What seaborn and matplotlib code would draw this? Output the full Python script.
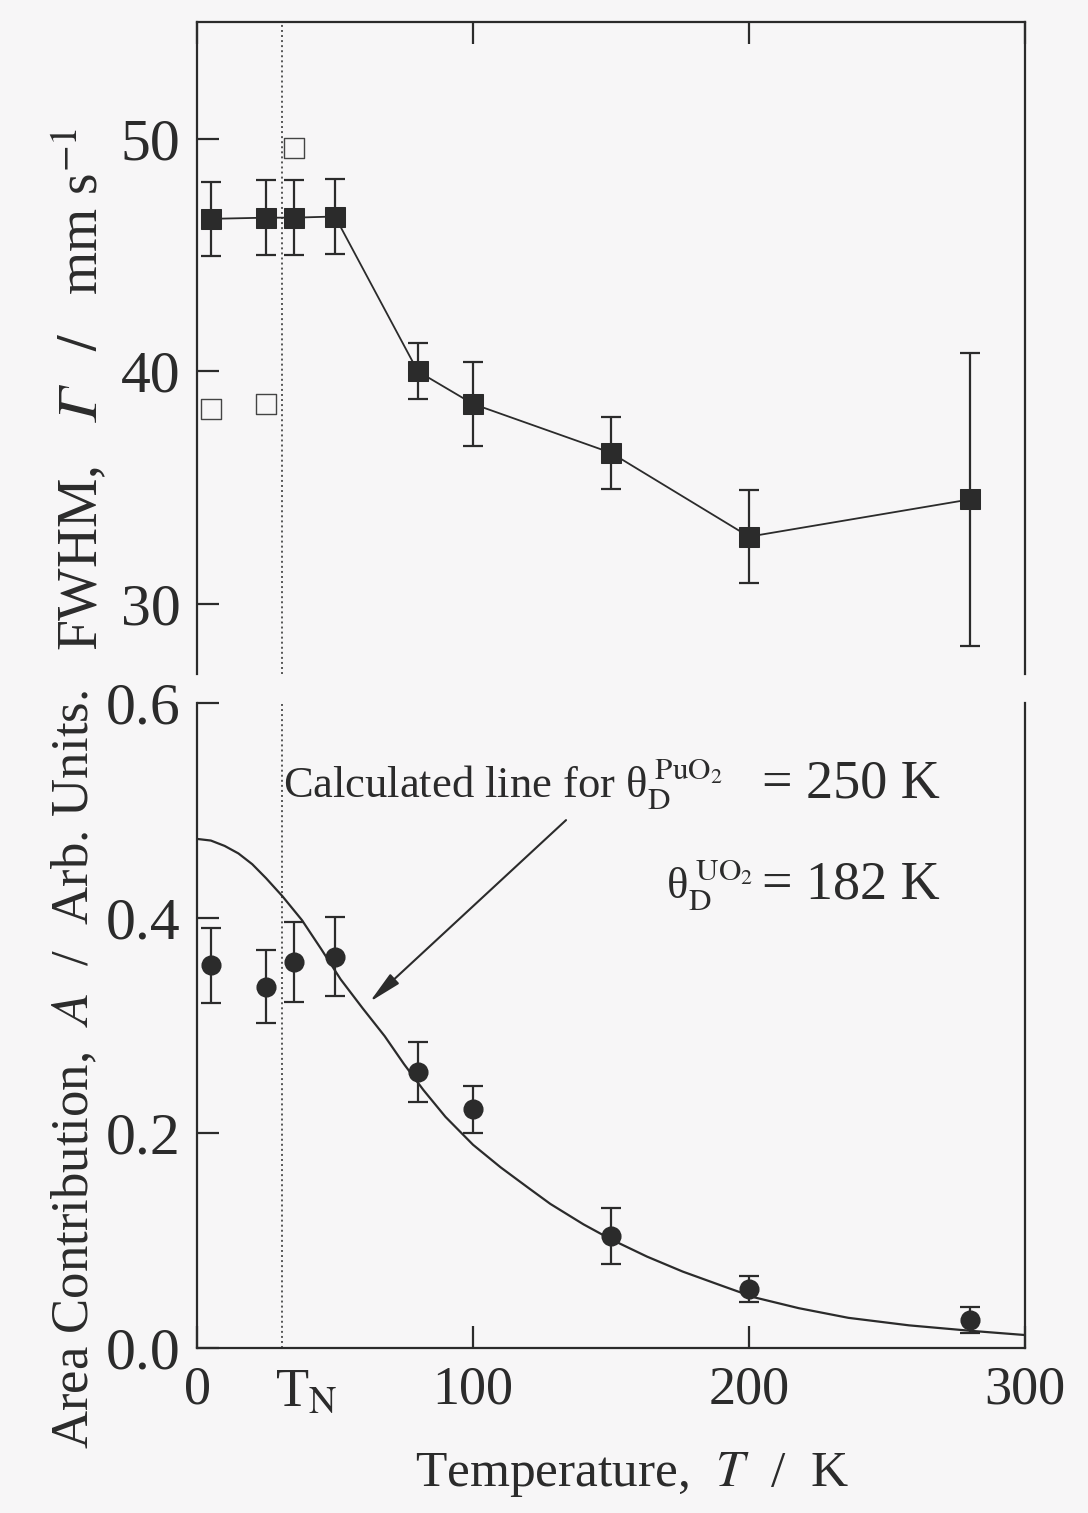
import numpy as np
import pandas as pd
import matplotlib
matplotlib.use("Agg")
import matplotlib.pyplot as plt
import matplotlib.transforms as mtransforms
import seaborn as sns

# ---------------- data ----------------
T_N = 30.8

T_fwhm = [5, 25, 35, 50, 80, 100, 150, 200, 280]
fwhm = [46.55, 46.6, 46.6, 46.65, 40.0, 38.6, 36.5, 32.9, 34.5]
fwhm_err = [1.6, 1.6, 1.6, 1.6, 1.2, 1.8, 1.55, 2.0, 6.3]

T_open = [5, 25, 35]
fwhm_open = [38.4, 38.6, 49.6]

T_area = [5, 25, 35, 50, 80, 100, 150, 200, 280]
area = [0.356, 0.336, 0.359, 0.364, 0.257, 0.222, 0.104, 0.055, 0.026]
area_err = [0.035, 0.034, 0.037, 0.037, 0.028, 0.022, 0.026, 0.012, 0.012]

T_calc = [0, 5, 10, 15, 20, 25, 31, 38, 45, 52, 60, 68, 75, 82, 90, 100,
          110, 120, 128, 140, 150, 163, 176, 190, 202, 218, 236, 258, 280, 300]
area_calc = [0.4735, 0.472, 0.467, 0.460, 0.450, 0.437, 0.420, 0.398, 0.371,
             0.343, 0.316, 0.290, 0.264, 0.240, 0.215, 0.189, 0.168, 0.149,
             0.134, 0.115, 0.101, 0.085, 0.071, 0.058, 0.047, 0.037, 0.028,
             0.021, 0.016, 0.012]

x_ticks = [0, 100, 200, 300]
fwhm_ticks = [30, 40, 50]
area_ticks = [0.0, 0.2, 0.4, 0.6]

# ---------------- style ----------------
sns.set_theme(style="ticks")
plt.rcParams["font.family"] = ["Liberation Serif", "DejaVu Serif"]
plt.rcParams["mathtext.fontset"] = "stix"
INK = "#2b2b2b"
BG = "#f7f6f7"
XFS = 39
YFS = 43

fig = plt.figure(figsize=(10.88, 15.13), dpi=100, facecolor=BG)
ax1 = fig.add_axes([0.1811, 0.5545, 0.7610, 0.4309], facecolor=BG)
ax2 = fig.add_axes([0.1811, 0.1091, 0.7610, 0.4263], facecolor=BG)

df_fw = pd.DataFrame({"T": T_fwhm, "G": fwhm})
df_open = pd.DataFrame({"T": T_open, "G": fwhm_open})
df_a = pd.DataFrame({"T": T_area, "A": area})
df_c = pd.DataFrame({"T": T_calc, "A": area_calc})

# ---- top panel ----
ax1.errorbar(T_fwhm, fwhm, yerr=fwhm_err, fmt="none", ecolor=INK,
             elinewidth=1.6, capsize=7.5, capthick=1.6, zorder=2)
sns.lineplot(data=df_fw, x="T", y="G", ax=ax1, color=INK, lw=1.3,
             marker="s", markersize=14, markerfacecolor=INK,
             markeredgecolor=INK, sort=False, zorder=3)
sns.scatterplot(data=df_open, x="T", y="G", ax=ax1, marker="s", s=200,
                facecolor=BG, edgecolor="#444444", linewidth=1.0, zorder=3)
ax1.axvline(T_N, ls=(0, (1, 1.6)), lw=1.4, color="#555555", zorder=1)

ax1.set_xlim(0, 300)
ax1.set_ylim(27, 55)
ax1.spines["bottom"].set_visible(False)
for s in ["top", "left", "right"]:
    ax1.spines[s].set_linewidth(1.6)
    ax1.spines[s].set_color(INK)
ax1.set_xticks(x_ticks)
ax1.set_yticks(fwhm_ticks)
ax1.tick_params(axis="x", which="both", bottom=False, labelbottom=False,
                top=True, direction="in", length=16, width=1.6, color=INK)
ax1.tick_params(axis="y", direction="in", length=16, width=1.6, color=INK,
                labelsize=YFS, labelcolor=INK, pad=12, right=False)
ax1.set_xlabel("")
ax1.set_ylabel("FWHM,$\\quad\U0001D6E4\\quad/\\quad$mm s$^{-1}$",
               fontsize=40, color=INK)
ax1.yaxis.set_label_coords(-0.106, 0.436)

# ---- bottom panel ----
ax2.errorbar(T_area, area, yerr=area_err, fmt="none", ecolor=INK,
             elinewidth=1.6, capsize=7.5, capthick=1.6, zorder=2)
sns.scatterplot(data=df_a, x="T", y="A", ax=ax2, marker="o", s=180,
                color=INK, edgecolor=INK, zorder=3)
sns.lineplot(data=df_c, x="T", y="A", ax=ax2, color=INK, lw=1.6, sort=False,
             zorder=2)
ax2.axvline(T_N, ls=(0, (1, 1.6)), lw=1.4, color="#555555", zorder=1)

ax2.set_xlim(0, 300)
ax2.set_ylim(0, 0.6)
ax2.spines["top"].set_visible(False)
for s in ["bottom", "left", "right"]:
    ax2.spines[s].set_linewidth(1.6)
    ax2.spines[s].set_color(INK)
ax2.set_xticks(x_ticks)
ax2.set_xticklabels([str(v) for v in x_ticks])
ax2.set_yticks(area_ticks)
ax2.set_yticklabels([f"{v:.1f}" for v in area_ticks])
ax2.tick_params(axis="x", which="major", direction="in", length=16, width=1.6,
                color=INK, labelsize=XFS, labelcolor=INK, pad=12, top=False)
ax2.tick_params(axis="y", direction="in", length=16, width=1.6, color=INK,
                labelsize=YFS, labelcolor=INK, pad=12, right=False)
blend = mtransforms.blended_transform_factory(ax2.transData, ax2.transAxes)
ax2.text(T_N - 2.5, -0.030, r"T$_{\rm N}$", transform=blend, fontsize=XFS,
         color=INK, ha="left", va="top")
ax2.set_ylabel(r"Area Contribution,  $\mathit{A}$  /  Arb. Units.",
               fontsize=38, color=INK)
ax2.yaxis.set_label_coords(-0.118, 0.431)
ax2.set_xlabel(r"Temperature,  $\mathit{T}$  /  K", fontsize=37, color=INK)
ax2.xaxis.set_label_coords(0.525, -0.158)

ax2.text(31, 0.512, r"Calculated line for θ$_{\rm D}^{\ \rm PuO_2}$",
         fontsize=32, color=INK, ha="left", va="baseline")
ax2.text(269, 0.512, "= 250 K", fontsize=39, color=INK, ha="right",
         va="baseline")
ax2.text(170, 0.418, r"θ$_{\rm D}^{\ \rm UO_2}$",
         fontsize=32, color=INK, ha="left", va="baseline")
ax2.text(269, 0.418, "= 182 K", fontsize=39, color=INK, ha="right",
         va="baseline")
ax2.annotate("", xy=(62.6, 0.322), xytext=(133.7, 0.491),
             arrowprops=dict(arrowstyle="-|>,head_length=1.0,head_width=0.2",
                             mutation_scale=20, lw=1.5, color=INK,
                             shrinkA=0, shrinkB=0))

fig.savefig("out.png", dpi=100, facecolor=BG)
